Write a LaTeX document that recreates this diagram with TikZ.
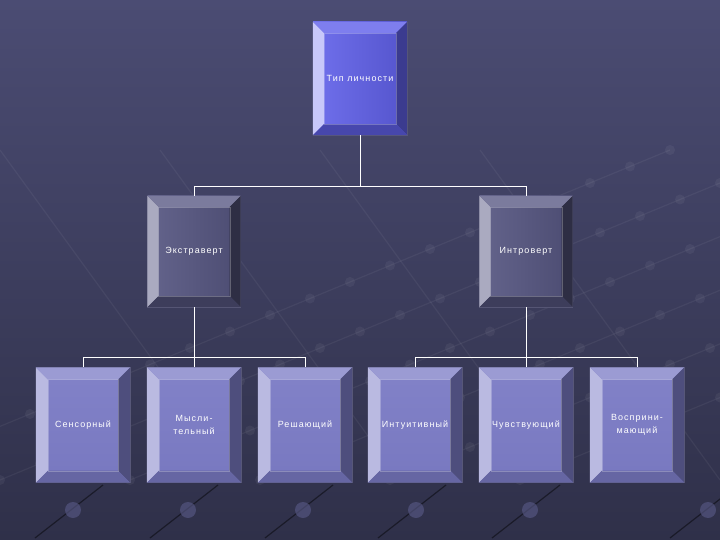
\documentclass[tikz,border=0pt]{standalone}
\usepackage{fontspec}
\setmainfont{Liberation Sans}[LetterSpace=12]
\usetikzlibrary{calc}
\definecolor{bgtop}{HTML}{4B4C73}
\definecolor{bgmid}{HTML}{5A5B89}
\definecolor{bgbot}{HTML}{2F3049}
\tikzset{
  conn/.style={draw=white, line width=0.9bp},
  boxbase/.style={inner sep=0pt, font=\fontsize{9}{13}\selectfont, text=white, align=center, draw=black!60!blue!30!gray, line width=0.4bp},
  topbox/.style={boxbase, minimum width=94bp, minimum height=113bp, left color=topA, right color=topB},
  midbox/.style={boxbase, minimum width=93bp, minimum height=111bp, left color=midA, right color=midB},
  lowbox/.style={boxbase, minimum width=94bp, minimum height=115bp, top color=lowA, bottom color=lowB},
  bgline/.style={draw=white, opacity=0.05, line width=1.2bp},
  bgdot/.style={fill=white, opacity=0.05},
  darkline/.style={draw=black, opacity=0.45, line width=1.2bp},
  darkdot/.style={fill=bgmid, opacity=0.6}
}
\definecolor{topA}{HTML}{7070EC}
\definecolor{topB}{HTML}{5454CC}
\definecolor{midA}{HTML}{64648C}
\definecolor{midB}{HTML}{4C4C72}
\definecolor{lowA}{HTML}{8282C8}
\definecolor{lowB}{HTML}{7878C0}
% bevel faces: name, width, left, top, right, bottom
\newcommand\bevelfaces[6]{%
  \fill[#3] (#1.north west) -- ($(#1.north west)+(#2,#2)$) -- ($(#1.south west)+(#2,-#2)$) -- (#1.south west) -- cycle;
  \fill[#4] (#1.north west) -- (#1.north east) -- ($(#1.north east)+(-#2,#2)$) -- ($(#1.north west)+(#2,#2)$) -- cycle;
  \fill[#5] (#1.north east) -- (#1.south east) -- ($(#1.south east)+(-#2,-#2)$) -- ($(#1.north east)+(-#2,#2)$) -- cycle;
  \fill[#6] (#1.south west) -- (#1.south east) -- ($(#1.south east)+(-#2,-#2)$) -- ($(#1.south west)+(#2,-#2)$) -- cycle;
  \draw[white, opacity=0.25, line width=0.4bp] ($(#1.north west)+(#2,#2)$) rectangle ($(#1.south east)+(-#2,-#2)$);
}
\begin{document}
\begin{tikzpicture}[x=1bp, y=-1bp]
\useasboundingbox (0,0) rectangle (720,540);
\shade[top color=bgtop, middle color=bgmid, bottom color=bgbot] (0,0) rectangle (720,540);
% faint background grid
\begin{scope}
\clip (0,0) rectangle (720,540);
\foreach \a in {-130,0,130,260,390,520}{
  \draw[bgline] (\a,480) -- ++(800,-330);
  \foreach \t in {0,40,...,800}{
    \fill[bgdot] ({\a+\t},{480-0.4125*\t}) circle (5);
  }
}
\foreach \a in {0,160,320,480}{
  \draw[bgline] (\a,150) -- ++(240,330);
}
\foreach \x in {73,188,303,416,530,708}{
  \draw[darkline] ({\x-38},538) -- ({\x+30},485);
  \fill[darkdot] (\x,510) circle (8);
}
\end{scope}
% nodes
\node[topbox] (top) at (360,78.5) {};
\bevelfaces{top}{11}{fill=blue!10!white!75!topA}{fill=topA!90!white}{fill=topB!70!black}{fill=topB!85!black}
\node[text=white, font=\fontsize{9}{13}\selectfont] (toptxt) at (top.center) {Тип личности};

\node[midbox] (ext) at (194,251.5) {};
\bevelfaces{ext}{11}{fill=midA!55!white}{fill=midA!85!white}{fill=midB!60!black}{fill=midB!80!black}
\node[text=white, font=\fontsize{9}{13}\selectfont] (exttxt) at (ext.center) {Экстраверт};

\node[midbox] (intr) at (526,251.5) {};
\bevelfaces{intr}{11}{fill=midA!55!white}{fill=midA!85!white}{fill=midB!60!black}{fill=midB!80!black}
\node[text=white, font=\fontsize{9}{13}\selectfont] (intrtxt) at (intr.center) {Интроверт};

\foreach \n/\x/\t in {s1/83/{Сенсорный}, s2/194/{Мысли-\\тельный}, s3/305/{Решающий}, s4/415/{Интуитивный}, s5/526/{Чувствующий}, s6/637/{Восприни-\\мающий}}{
  \node[lowbox] (\n) at (\x,425) {};
  \bevelfaces{\n}{12}{fill=lowA!55!white}{fill=lowA!80!white}{fill=lowB!65!black}{fill=lowB!85!black}
  \node[text=white, align=center, font=\fontsize{9}{13}\selectfont] (\n txt) at (\n.center) {\t};
}
% connectors
\coordinate (j1) at (360,186);
\coordinate (j2) at (194,357);
\coordinate (j3) at (526,357);
\draw[conn] (top.south) -- (j1);
\draw[conn] (j1) -| (ext.north);
\draw[conn] (j1) -| (intr.north);
\draw[conn] (ext.south) -- (j2);
\draw[conn] (j2) -| (s1.north);
\draw[conn] (j2) -- (s2.north);
\draw[conn] (j2) -| (s3.north);
\draw[conn] (intr.south) -- (j3);
\draw[conn] (j3) -| (s4.north);
\draw[conn] (j3) -- (s5.north);
\draw[conn] (j3) -| (s6.north);
\end{tikzpicture}
\end{document}
